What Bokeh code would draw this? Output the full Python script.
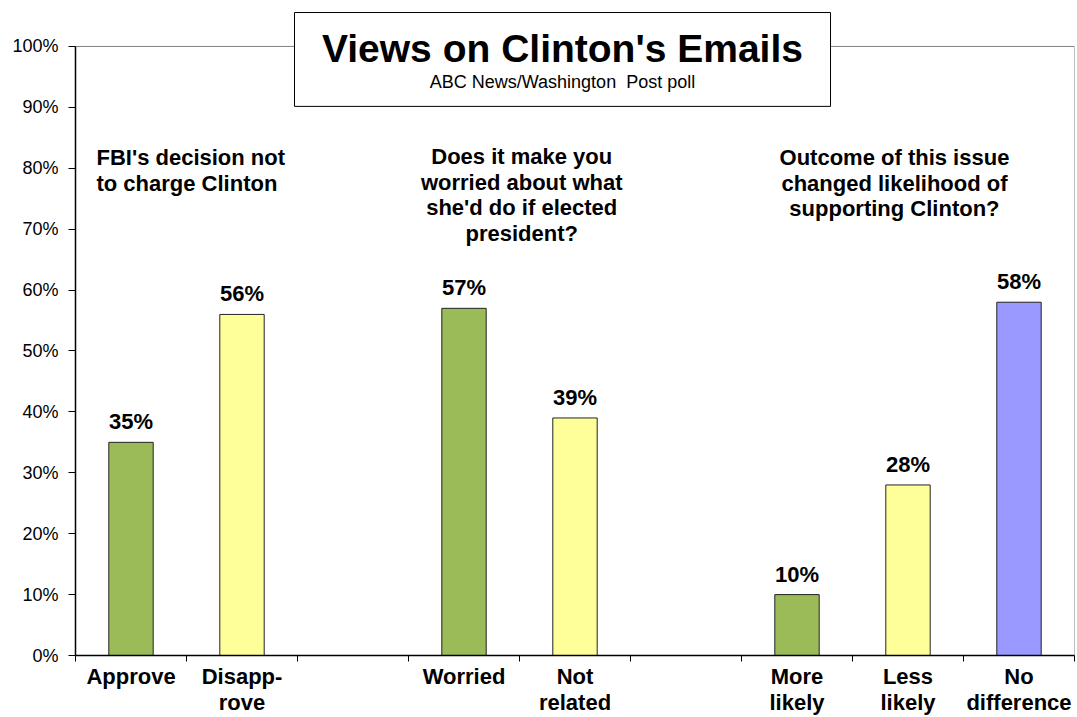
from bokeh.plotting import figure
from bokeh.models import (Range1d, FixedTicker, NumeralTickFormatter, Label,
                          BoxAnnotation, ColumnDataSource)
from bokeh.embed import file_html
from bokeh.resources import INLINE
from bokeh.core.properties import value

# ---- data ----
categories = ["Approve", "Disapp-\nrove", "", "Worried", "Not\nrelated", "",
              "More\nlikely", "Less\nlikely", "No\ndifference"]
values = [0.35, 0.56, None, 0.57, 0.39, None, 0.10, 0.28, 0.58]
bar_colors = ["#9BBB59", "#FFFF99", None, "#9BBB59", "#FFFF99", None,
              "#9BBB59", "#FFFF99", "#9999FF"]
y_ticks = [0.0, 0.1, 0.2, 0.3, 0.4, 0.5, 0.6, 0.7, 0.8, 0.9, 1.0]
group_titles = ["FBI's decision not\nto charge Clinton",
                "Does it make you\nworried about what\nshe'd do if elected\npresident?",
                "Outcome of this issue\nchanged likelihood of\nsupporting Clinton?"]
title_text = "Views on Clinton's Emails"
subtitle_text = "ABC News/Washington\u00a0 Post poll"

FONT = "Liberation Sans"

centers = [i + 0.5 for i in range(len(categories))]
bx, bv, bc, bl = [], [], [], []
for c, v, col in zip(centers, values, bar_colors):
    if v is not None:
        bx.append(c)
        bv.append(v)
        bc.append(col)
        bl.append(f"{round(v * 100)}%")
src = ColumnDataSource(dict(x=bx, top=bv, color=bc, label=bl))

# frame: 0% at y=656, 100% at y=46 (610 px); frame extends up to y=10
p = figure(width=1077, height=717, output_backend="svg", toolbar_location=None,
           x_range=Range1d(0, 9), y_range=Range1d(0, 646 / 610),
           min_border_left=75, min_border_right=3, min_border_top=10,
           min_border_bottom=61)
p.background_fill_color = "white"
p.border_fill_color = "white"
p.outline_line_color = None
p.xgrid.visible = False
p.ygrid.visible = False

# plot-area border (top/right), under everything
p.add_layout(BoxAnnotation(left=0, right=9, bottom=0, top=1, fill_alpha=0,
                           line_color="#808080", line_alpha=1.0, line_width=1,
                           level="underlay"))

p.vbar(x="x", top="top", bottom=0, width=0.4, source=src, fill_color="color",
       line_color="#222222", line_width=1)
p.text(x="x", y="top", text="label", source=src, text_align="center",
       text_baseline="bottom", y_offset=-8, text_font=value(FONT),
       text_font_style="bold", text_font_size="22px", text_color="#000000")

# x axis
xa = p.xaxis[0]
xa.ticker = FixedTicker(ticks=centers, minor_ticks=list(range(10)))
xa.major_label_overrides = {c: lab for c, lab in zip(centers, categories)}
xa.major_tick_out = 0
xa.major_tick_in = 0
xa.minor_tick_out = 6
xa.minor_tick_in = 0
xa.minor_tick_line_color = "#000000"
xa.axis_line_color = "#000000"
xa.axis_line_width = 1.5
xa.major_label_standoff = 2
xa.major_label_text_font = FONT
xa.major_label_text_font_style = "bold"
xa.major_label_text_font_size = "22px"
xa.major_label_text_color = "#000000"
xa.major_label_text_line_height = 1.05

# y axis
ya = p.yaxis[0]
ya.ticker = FixedTicker(ticks=y_ticks, minor_ticks=[])
ya.formatter = NumeralTickFormatter(format="0%")
ya.bounds = (0, 1)
ya.major_tick_out = 7
ya.major_tick_in = 0
ya.major_tick_line_color = "#000000"
ya.axis_line_color = "#000000"
ya.axis_line_width = 1.5
ya.major_label_standoff = 10
ya.major_label_text_font = FONT
ya.major_label_text_font_size = "18px"
ya.major_label_text_color = "#000000"

# group titles
gpos = [(0.189, 0.7967, "left"), (4.02, 0.7557, "center"), (7.378, 0.7754, "center")]
for txt, (gx, gy, al) in zip(group_titles, gpos):
    p.add_layout(Label(x=gx, y=gy, text=txt, text_align=al, text_baseline="middle",
                       text_font=FONT, text_font_style="bold", text_font_size="22px",
                       text_color="#000000", text_line_height=1.02))

# title box
p.add_layout(BoxAnnotation(left=1.973, right=6.802, top=1.0557, bottom=0.9016,
                           fill_color="white", fill_alpha=1.0,
                           line_color="#000000", line_alpha=1.0, line_width=1))
p.add_layout(Label(x=4.387, y=0.9959, text=title_text, text_align="center",
                   text_baseline="middle", text_font=FONT, text_font_style="bold",
                   text_font_size="39px", text_color="#000000"))
p.add_layout(Label(x=4.387, y=0.9418, text=subtitle_text, text_align="center",
                   text_baseline="middle", text_font=FONT,
                   text_font_size="18px", text_color="#000000"))

open("out.html", "w").write(file_html(p, INLINE))
